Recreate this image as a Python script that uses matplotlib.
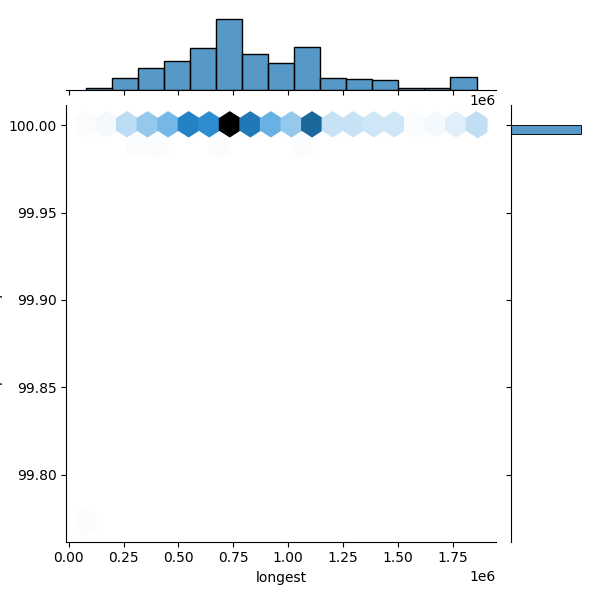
import numpy as np
import pandas as pd
import matplotlib
matplotlib.use("Agg")
import matplotlib.pyplot as plt
import seaborn as sns
from seaborn.utils import set_hls_values

# values: longest contig (bp), completeness (%), how many samples
longest = [77400, 98400, 207200, 265000, 311900, 360200, 405600, 419900,
           466800, 526000, 572900, 632500, 679000, 687000, 734100, 785500,
           832400, 891600, 938500, 998200, 1045100, 1062200, 1104300, 1151200,
           1202600, 1304600, 1363800, 1410700, 1469900, 1516800, 1575600,
           1671200, 1776000, 1835200, 1859300]
complete = [99.773, 100, 100, 100, 99.995, 100, 99.995, 100,
            100, 100, 100, 100, 100, 99.995, 100, 100,
            100, 100, 100, 100, 100, 99.995, 100, 100,
            100, 100, 100, 100, 100, 100, 100,
            100, 100, 100, 100]
n_samples = [1, 1, 2, 11, 1, 17, 1, 7,
             15, 18, 20, 27, 8, 1, 69, 2,
             38, 3, 21, 9, 8, 1, 39, 5,
             9, 9, 3, 5, 6, 2, 1,
             2, 5, 9, 1]

df = pd.DataFrame({
    "longest": np.repeat(longest, n_samples),
    "percent complete": np.repeat(complete, n_samples),
})

rgb = matplotlib.colors.to_rgb("C0")
cmap = sns.blend_palette([set_hls_values(rgb, l=v) for v in np.linspace(1, 0, 12)],
                         as_cmap=True)

g = sns.JointGrid(data=df, x="longest", y="percent complete", height=6)
g.plot_joint(plt.hexbin, gridsize=19, cmap=cmap)
sns.histplot(x=df["longest"], bins=15, color="C0", ax=g.ax_marg_x)
sns.histplot(y=df["percent complete"], bins=45, color="C0", ax=g.ax_marg_y)

g.figure.savefig("out.png", dpi=100)
